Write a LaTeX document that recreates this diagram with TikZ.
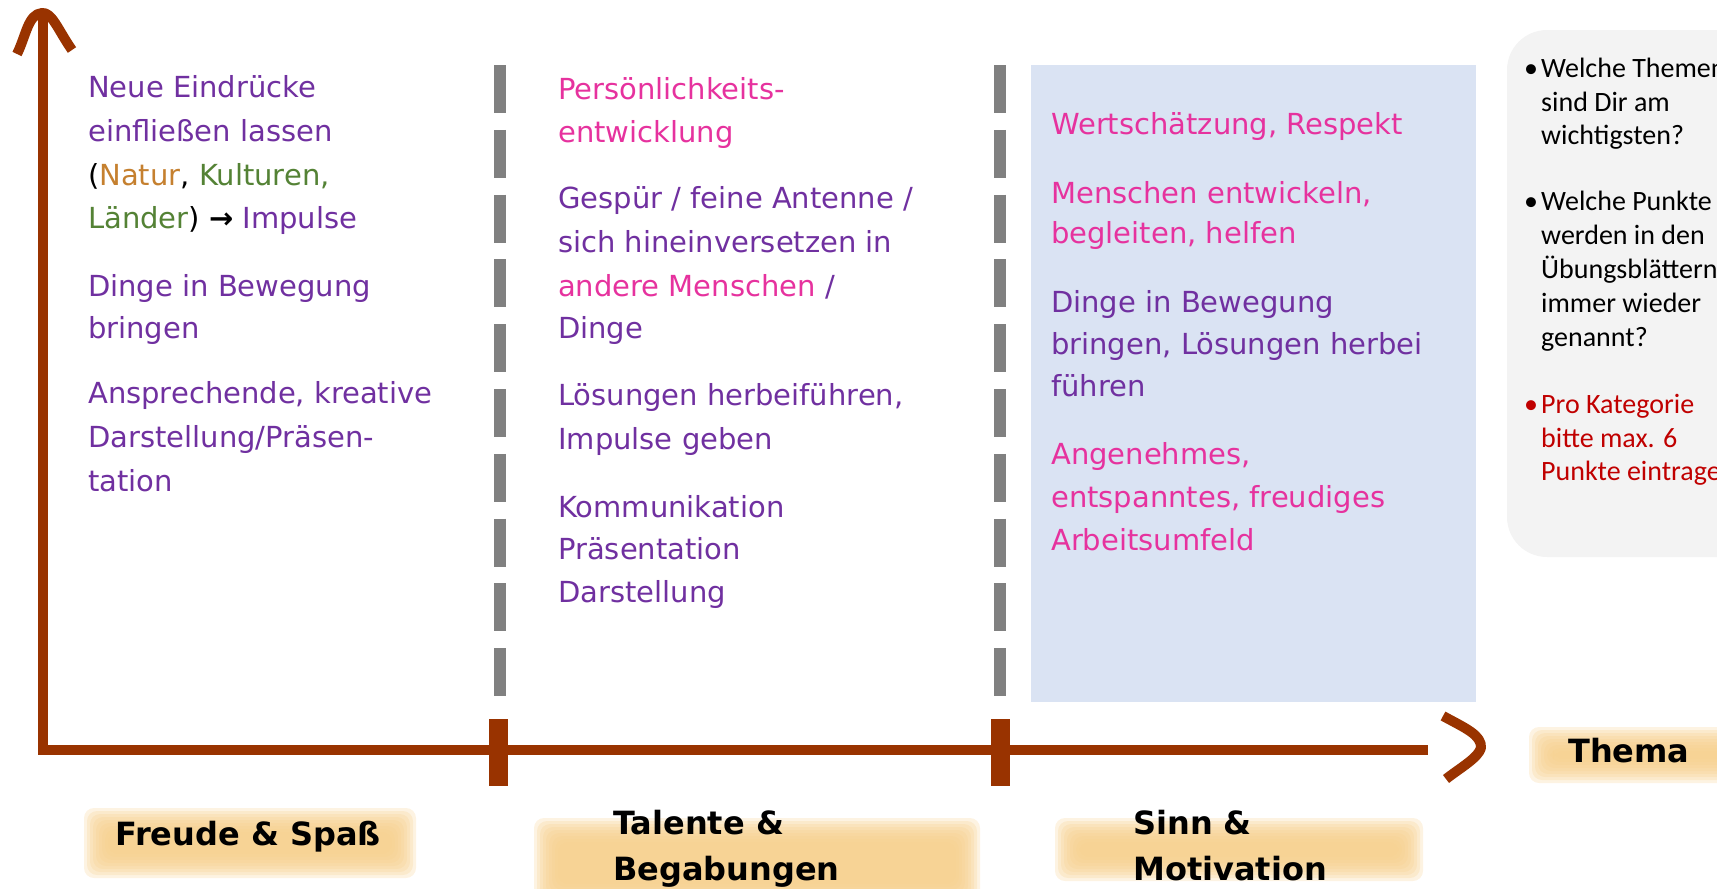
\documentclass[tikz,border=0pt]{standalone}
\usepackage{fontspec}
\newfontfamily\handfont{DejaVu Sans}
\newfontfamily\calfont{Carlito}
\definecolor{axbrown}{HTML}{993300}
\definecolor{dashgray}{HTML}{808080}
\definecolor{lblue}{HTML}{DAE3F3}
\definecolor{boxgray}{HTML}{F3F3F3}
\definecolor{tpurple}{HTML}{7030A0}
\definecolor{tpink}{HTML}{E6329E}
\definecolor{torange}{HTML}{C5802F}
\definecolor{tgreen}{HTML}{548235}
\definecolor{tred}{HTML}{C00000}
\definecolor{lblorange}{HTML}{F6CF8C}
\newcommand\glowrect[4]{%
  \foreach \e in {16,13,10,7,4,1,-2,-5,-8}{%
    \fill[lblorange, opacity=0.25, rounded corners=10] (#1-\e,#2-\e) rectangle (#3+\e,#4+\e);}}
\tikzset{
  hand/.style={font=\handfont\fontsize{29}{43}\selectfont, anchor=base west, inner sep=0pt},
  lbl/.style={font=\handfont\bfseries\fontsize{32}{40}\selectfont, anchor=base west, inner sep=0pt, text=black},
  cal/.style={font=\calfont\fontsize{28}{34}\selectfont, anchor=base west, inner sep=0pt},
  bul/.style={font=\calfont\fontsize{28}{34}\selectfont, anchor=base, inner sep=0pt},
  axis/.style={draw=axbrown, line width=10pt},
  sep/.style={draw=dashgray, line width=12pt, dash pattern=on 48pt off 16.8pt},
}
\begin{document}
\begin{tikzpicture}[x=1pt,y=-1pt]
\useasboundingbox (0,0) rectangle (1717,889);
\clip (0,0) rectangle (1717,889);
% backgrounds
\fill[lblue] (1031,65) rectangle (1476,702);
\fill[boxgray, rounded corners=40] (1507,30) rectangle (1780,557);
\glowrect{100}{824}{400}{862}
\glowrect{550}{834}{964}{892}
\glowrect{1071}{834}{1407}{865}
\glowrect{1545}{743}{1740}{767}
% separators
\draw[sep] (500,65) -- (500,696);
\draw[sep] (1000,65) -- (1000,696);
% axes
\draw[axis, line join=miter] (43,9) -- (43,750) -- (1428,750);
\draw[axis, line cap=butt, line join=round] (17,54) .. controls (26,36) and (28,14) .. (42,13) .. controls (52,12) and (58,30) .. (72,50);
\draw[axis, line cap=butt, line join=round] (1443,716) .. controls (1465,728) and (1482,735) .. (1481,748) .. controls (1478,758) and (1460,768) .. (1446,779);
\fill[axbrown] (489,719) rectangle (508,786);
\fill[axbrown] (991,719) rectangle (1010,786);
% column 1
\node[hand, tpurple] (c1a) at (88,97) {Neue Eindrücke};
\node[hand, tpurple] (c1b) at (88,141) {einfließen lassen};
\node[hand] (c1c) at (88,185) {(\textcolor{torange}{Natur}, \textcolor{tgreen}{Kulturen,}};
\node[hand] (c1d) at (88,228) {\textcolor{tgreen}{Länder}) {\bfseries →} \textcolor{tpurple}{Impulse}};
\node[hand, tpurple] (c1e) at (88,296) {Dinge in Bewegung};
\node[hand, tpurple] (c1f) at (88,338) {bringen};
\node[hand, tpurple] (c1g) at (88,403) {Ansprechende, kreative};
\node[hand, tpurple] (c1h) at (88,447) {Darstellung/Präsen-};
\node[hand, tpurple] (c1i) at (88,491) {tation};
% column 2
\node[hand, tpink] (c2a) at (558,99) {Persönlichkeits-};
\node[hand, tpink] (c2b) at (558,142) {entwicklung};
\node[hand, tpurple] (c2c) at (558,208) {Gespür / feine Antenne /};
\node[hand, tpurple] (c2d) at (558,252) {sich hineinversetzen in};
\node[hand, tpurple] (c2e) at (558,296) {\textcolor{tpink}{andere Menschen} /};
\node[hand, tpurple] (c2f) at (558,338) {Dinge};
\node[hand, tpurple] (c2g) at (558,405) {Lösungen herbeiführen,};
\node[hand, tpurple] (c2h) at (558,449) {Impulse geben};
\node[hand, tpurple] (c2i) at (558,517) {Kommunikation};
\node[hand, tpurple] (c2j) at (558,559) {Präsentation};
\node[hand, tpurple] (c2k) at (558,602) {Darstellung};
% column 3
\node[hand, tpink] (c3a) at (1051,134) {Wertschätzung, Respekt};
\node[hand, tpink] (c3b) at (1051,203) {Menschen entwickeln,};
\node[hand, tpink] (c3c) at (1051,243) {begleiten, helfen};
\node[hand, tpurple] (c3d) at (1051,312) {Dinge in Bewegung};
\node[hand, tpurple] (c3e) at (1051,354) {bringen, Lösungen herbei};
\node[hand, tpurple] (c3f) at (1051,396) {führen};
\node[hand, tpink] (c3g) at (1051,464) {Angenehmes,};
\node[hand, tpink] (c3h) at (1051,507) {entspanntes, freudiges};
\node[hand, tpink] (c3i) at (1051,550) {Arbeitsumfeld};
% right box
\node[bul] (b1) at (1531,77) {•};
\node[cal] (r1) at (1541,77) {Welche Themen};
\node[cal] (r2) at (1541,111) {sind Dir am};
\node[cal] (r3) at (1541,144) {wichtigsten?};
\node[bul] (b2) at (1531,210) {•};
\node[cal] (r4) at (1541,210) {Welche Punkte};
\node[cal] (r5) at (1541,244) {werden in den};
\node[cal] (r6) at (1541,278) {Übungsblättern};
\node[cal] (r7) at (1541,312) {immer wieder};
\node[cal] (r8) at (1541,346) {genannt?};
\node[bul, tred] (b3) at (1531,413) {•};
\node[cal, tred] (r9) at (1541,413) {Pro Kategorie};
\node[cal, tred] (r10) at (1541,447) {bitte max. 6};
\node[cal, tred] (r11) at (1541,480) {Punkte eintragen};
% labels
\node[lbl, anchor=base] (l1) at (248,845) {Freude \& Spaß};
\node[lbl] (l2a) at (613,834) {Talente \&};
\node[lbl] (l2b) at (613,880) {Begabungen};
\node[lbl] (l3a) at (1133,834) {Sinn \&};
\node[lbl] (l3b) at (1133,880) {Motivation};
\node[lbl] (l4) at (1568,762) {Thema};
\end{tikzpicture}
\end{document}
